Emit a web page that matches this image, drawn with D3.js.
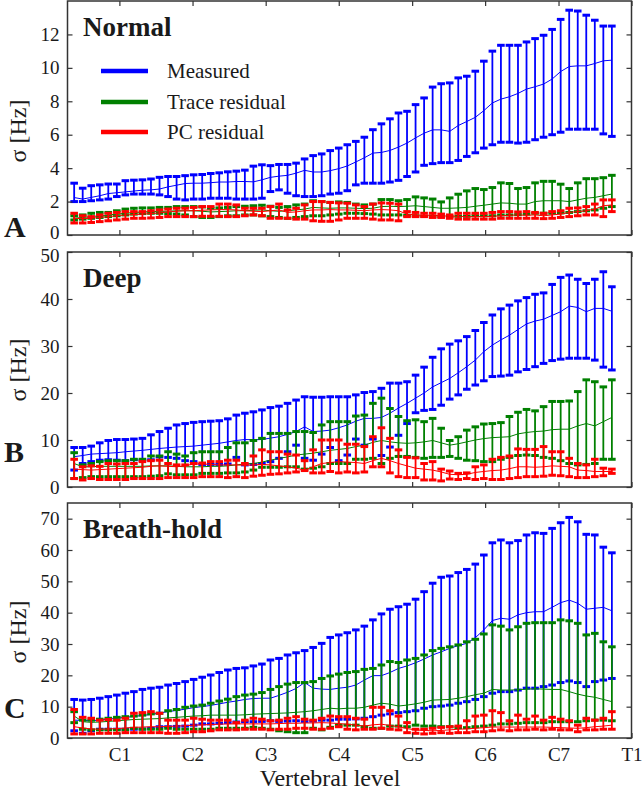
<!DOCTYPE html>
<html><head><meta charset="utf-8">
<script src="https://cdn.jsdelivr.net/npm/d3@7"></script>
<style>body{margin:0;background:#fff} svg text{font-family:"Liberation Serif","Times New Roman",serif;fill:#1a1a1a}</style>
</head><body><svg id="c" width="644" height="794"></svg>
<script>
// ---------- DATA ----------
const tickLabels = ["C1","C2","C3","C4","C5","C6","C7","T1"];
const tickSlices = [5.3,13.87,22.44,31.0,39.6,48.15,56.75,65.3];
const seriesNames = ["Measured","Trace residual","PC residual"];

// Normal
const normalMeasuredMean=[2.24,2.15,2.25,2.35,2.48,2.53,2.58,2.63,2.68,2.7,2.75,2.88,2.98,3.08,3.1,3.1,3.13,3.17,3.17,3.2,3.2,3.18,3.3,3.45,3.52,3.57,3.7,3.87,3.77,3.77,3.85,3.97,4.13,4.37,4.62,4.9,4.94,5.06,5.26,5.5,5.81,6.09,6.29,6.29,6.2,6.55,6.79,7.04,7.44,7.9,8.13,8.27,8.47,8.73,8.87,9.03,9.33,9.78,10.08,10.12,10.12,10.26,10.42,10.46];
const normalMeasuredHi=[3.1,2.8,2.95,3.0,3.05,3.05,3.25,3.28,3.3,3.35,3.45,3.5,3.5,3.55,3.6,3.62,3.68,3.72,3.78,3.82,3.88,4.12,4.2,4.15,4.22,4.22,4.3,4.55,4.75,4.85,5.05,5.2,5.4,5.6,5.85,6.3,6.65,6.95,7.3,7.4,7.8,8.2,8.85,9.05,9.1,9.4,9.5,9.8,10.4,11.0,11.35,11.35,11.35,11.55,11.75,11.95,12.3,12.9,13.45,13.4,13.15,12.85,12.5,12.5];
const normalMeasuredLo=[2.0,2.0,2.05,2.1,2.15,2.3,2.4,2.45,2.45,2.45,2.4,2.3,2.15,2.1,2.15,2.15,2.2,2.2,2.2,2.15,2.15,2.15,2.2,2.6,2.7,2.5,2.35,2.3,2.3,2.35,2.45,2.5,2.65,3.0,3.1,3.1,3.1,3.17,3.27,3.5,3.77,4.17,4.27,4.33,4.33,4.46,4.7,4.92,5.2,5.4,5.55,5.55,5.5,5.55,5.7,5.85,6.0,6.15,6.33,6.33,6.33,6.33,6.05,5.9];
const normalTraceMean=[1.0,1.05,1.1,1.15,1.2,1.25,1.3,1.35,1.38,1.4,1.42,1.42,1.45,1.45,1.45,1.42,1.38,1.4,1.42,1.45,1.45,1.48,1.5,1.45,1.42,1.45,1.5,1.55,1.65,1.62,1.6,1.62,1.62,1.6,1.58,1.6,1.7,1.72,1.7,1.72,1.75,1.7,1.65,1.6,1.6,1.62,1.65,1.72,1.78,1.85,1.92,1.9,1.85,1.85,2.0,2.05,2.05,2.05,2.0,2.1,2.2,2.25,2.35,2.45];
const normalTraceHi=[1.15,1.2,1.3,1.35,1.35,1.45,1.55,1.6,1.62,1.62,1.65,1.65,1.7,1.7,1.7,1.68,1.6,1.62,1.65,1.7,1.72,1.75,1.78,1.72,1.65,1.7,1.8,1.85,2.05,2.0,1.95,1.98,1.95,1.85,1.8,1.85,2.12,2.12,2.05,2.12,2.28,2.22,2.15,1.98,2.22,2.44,2.64,2.78,2.72,2.84,3.12,3.08,2.78,2.84,3.12,3.21,3.21,3.04,2.78,3.12,3.37,3.37,3.43,3.57];
const normalTraceLo=[0.9,0.95,1.0,1.05,1.1,1.15,1.2,1.25,1.28,1.3,1.3,1.28,1.25,1.2,1.1,1.05,1.05,1.1,1.15,1.15,1.2,1.2,1.15,1.1,1.05,1.0,1.05,1.1,1.15,1.15,1.2,1.25,1.3,1.3,1.28,1.25,1.2,1.2,1.2,1.18,1.15,1.12,1.12,1.1,1.1,1.12,1.12,1.15,1.15,1.15,1.2,1.2,1.22,1.25,1.3,1.3,1.3,1.32,1.35,1.4,1.45,1.5,1.6,1.7];
const normalPCMean=[1.0,0.98,1.0,1.05,1.1,1.15,1.2,1.22,1.25,1.28,1.32,1.38,1.42,1.45,1.45,1.48,1.5,1.52,1.52,1.5,1.45,1.42,1.4,1.45,1.5,1.35,1.38,1.45,1.5,1.5,1.52,1.5,1.5,1.48,1.45,1.5,1.52,1.5,1.45,1.25,1.2,1.18,1.18,1.15,1.12,1.12,1.1,1.1,1.1,1.12,1.15,1.18,1.2,1.18,1.2,1.15,1.2,1.25,1.35,1.4,1.45,1.55,1.75,1.8];
const normalPCHi=[1.3,1.15,1.1,1.2,1.3,1.35,1.4,1.4,1.4,1.45,1.5,1.55,1.6,1.6,1.65,1.7,1.7,1.85,1.85,1.8,1.6,1.6,1.6,1.7,1.85,1.5,1.6,1.8,2.0,2.0,1.95,1.92,1.9,1.8,1.7,1.85,1.92,1.9,1.85,1.4,1.35,1.3,1.3,1.25,1.2,1.3,1.3,1.3,1.3,1.35,1.4,1.4,1.38,1.4,1.35,1.3,1.4,1.45,1.6,1.62,1.7,1.85,2.1,2.1];
const normalPCLo=[0.72,0.72,0.75,0.8,0.85,0.9,0.95,1.0,1.0,1.02,1.05,1.1,1.1,1.1,1.1,1.12,1.12,1.12,1.1,1.1,1.15,1.2,1.15,1.0,1.0,1.0,0.95,0.95,0.85,0.82,0.82,0.9,1.0,1.0,1.0,0.95,0.9,0.9,0.85,1.1,1.1,1.1,1.05,1.05,1.0,0.95,0.95,0.95,0.95,0.95,1.0,1.0,1.0,1.0,1.0,0.98,1.0,1.05,1.1,1.15,1.2,1.2,1.1,1.4];

// Deep
const deepMeasuredMean=[6.45,6.7,7.0,7.1,7.2,7.3,7.5,7.65,7.8,8.0,8.2,8.35,8.5,8.6,8.7,8.9,9.1,9.3,9.6,9.9,10.1,10.05,10.1,10.4,10.7,11.2,11.8,12.8,11.8,11.9,12.1,12.6,13.2,14.0,14.6,14.6,14.8,15.7,16.8,17.8,18.9,20.0,21.3,22.2,23.1,24.3,25.6,27.0,28.8,30.2,31.3,32.3,33.5,34.7,35.3,35.7,36.5,37.3,38.5,38.2,37.3,38.0,38.0,37.4];
const deepMeasuredHi=[8.4,8.4,8.7,9.4,9.9,10.1,10.1,10.2,10.35,11.1,11.8,12.5,13.2,13.5,13.75,13.9,14.0,14.1,14.5,15.3,15.7,16.0,16.4,16.9,17.2,17.8,18.5,19.2,19.1,19.1,19.2,19.2,19.2,19.6,20.1,20.3,21.0,22.1,22.1,22.4,23.8,25.5,27.6,29.4,30.4,31.1,32.0,33.3,35.0,36.6,37.9,38.7,39.6,40.3,41.0,41.3,43.1,44.6,45.1,44.2,43.3,44.2,45.8,42.6];
const deepMeasuredLo=[3.6,5.0,5.4,5.7,5.8,5.7,5.6,5.8,5.7,5.8,6.4,6.3,6.1,5.6,5.4,4.8,4.8,4.8,4.9,6.3,4.7,4.8,5.0,5.4,6.1,7.5,8.9,6.1,5.7,7.0,8.4,5.6,6.8,10.2,8.9,10.2,6.7,8.5,11.0,13.5,15.8,16.3,16.5,17.4,18.7,19.6,20.8,21.7,22.6,23.5,23.6,23.8,24.5,25.0,25.6,26.3,26.9,27.2,27.4,27.4,27.4,27.0,25.5,24.9];
const deepTraceMean=[5.0,4.3,4.3,4.4,4.4,4.4,4.4,4.4,4.4,4.5,4.5,4.5,4.4,4.3,4.3,4.3,4.4,4.4,4.5,4.7,4.9,5.0,5.3,5.7,6.1,6.4,6.8,7.0,7.2,7.5,7.8,8.0,8.2,8.6,8.9,9.5,9.9,9.6,9.4,9.3,9.4,9.6,9.9,9.4,8.9,9.2,9.6,10.0,10.3,10.5,10.6,10.7,11.3,11.6,11.8,11.9,12.2,12.3,12.3,13.0,13.5,13.0,13.9,14.8];
const deepTraceHi=[7.3,4.7,5.0,5.4,5.6,5.6,5.6,5.9,5.9,6.6,6.6,7.5,7.0,6.6,7.3,7.5,7.5,7.5,8.4,9.4,9.4,9.9,10.35,11.4,11.4,11.4,11.8,11.8,11.6,13.2,13.9,13.9,13.9,15.1,15.3,17.8,18.9,16.7,15.0,14.1,14.3,13.9,14.6,12.5,9.9,10.7,12.1,12.8,13.4,13.5,13.7,15.0,15.9,16.5,16.2,17.1,18.2,18.2,18.3,20.3,22.8,22.4,21.3,22.8];
const deepTraceLo=[1.8,2.0,2.2,2.2,2.2,2.2,2.2,2.2,2.2,2.3,2.4,2.8,2.6,2.6,2.6,2.9,2.9,2.9,3.0,3.0,3.2,3.6,4.2,4.2,4.2,4.3,4.3,3.8,4.0,4.3,5.0,5.0,5.0,5.9,5.9,6.1,5.0,6.1,6.5,6.5,6.3,6.1,6.3,6.3,6.5,6.1,5.7,5.6,5.4,5.4,5.9,6.3,6.7,6.8,6.7,6.3,6.1,5.6,5.0,4.7,4.8,5.0,5.9,5.9];
const deepPCMean=[3.8,3.7,3.6,3.7,3.8,3.9,4.0,4.1,4.2,4.4,4.5,4.4,4.3,4.5,4.9,4.9,4.8,4.7,4.7,4.7,4.6,4.7,4.8,4.7,4.5,4.3,4.0,3.6,4.3,5.0,5.2,5.4,5.3,5.2,5.0,5.6,6.1,5.6,5.0,4.5,4.0,3.8,3.6,3.2,2.7,2.6,2.7,3.1,3.3,3.5,3.6,3.9,4.3,4.3,4.2,4.3,4.5,4.4,4.3,3.6,3.5,3.3,3.3,3.3];
const deepPCHi=[5.9,4.3,4.5,4.4,5.0,4.9,5.0,5.0,5.4,5.6,5.7,5.0,4.7,4.7,5.0,5.1,5.4,5.4,5.7,5.7,5.0,6.6,7.9,7.5,7.5,7.0,6.8,5.6,7.9,10.0,10.0,10.0,9.1,9.1,8.6,10.7,12.6,10.35,7.9,6.3,6.2,5.0,5.4,3.8,3.4,2.9,3.0,4.3,4.7,5.9,6.3,6.6,8.1,8.0,8.0,8.6,7.5,7.5,6.1,5.0,4.7,5.9,4.0,3.8];
const deepPCLo=[1.8,1.5,1.8,1.6,1.6,1.6,1.6,1.8,1.8,1.8,1.8,2.0,2.0,2.0,2.0,2.2,2.2,2.2,2.0,2.2,2.0,2.3,2.5,2.7,2.8,3.0,3.2,3.5,3.0,3.0,3.3,3.0,3.2,3.0,3.2,4.3,4.3,3.0,2.2,2.0,2.0,1.5,1.5,1.3,1.7,1.6,1.8,1.6,1.8,1.6,1.6,1.8,2.0,2.2,2.2,2.3,2.5,2.4,2.2,2.0,2.0,2.2,2.4,2.9];

// Breath-hold
const breathMeasuredMean=[5.7,5.6,5.5,5.7,6.0,6.3,6.6,6.9,7.2,7.5,8.0,8.4,8.8,9.2,9.7,10.0,10.4,10.9,11.4,11.8,12.3,12.6,12.7,12.7,13.6,14.6,15.8,17.7,15.9,15.6,15.5,15.9,16.2,16.9,18.5,19.9,19.9,20.9,22.2,23.0,24.0,25.2,26.5,27.5,28.6,29.5,30.2,32.0,34.5,37.5,38.2,37.9,39.3,40.0,40.3,40.3,41.7,43.2,44.0,43.0,41.1,41.4,41.7,40.6];
const breathMeasuredHi=[12.3,12.1,12.3,12.7,13.2,13.7,14.3,14.8,15.5,15.9,16.2,16.9,17.4,18.0,18.7,19.4,20.1,20.9,21.7,22.2,22.4,23.0,23.6,24.9,25.4,26.5,27.2,27.9,28.9,30.2,32.1,32.9,33.6,34.5,35.7,37.7,39.6,41.1,41.9,42.7,44.3,46.7,49.4,51.3,51.7,52.8,53.8,55.5,58.4,62.3,63.2,62.3,63.0,64.8,65.5,65.3,66.9,68.7,70.4,69.0,65.0,64.8,60.9,59.1];
const breathMeasuredLo=[2.3,1.5,2.3,2.8,2.8,2.8,2.8,2.8,2.9,3.1,3.6,3.6,3.7,3.8,4.1,4.5,4.5,4.7,4.9,5.1,5.2,5.2,5.3,5.5,5.3,5.4,5.5,5.3,5.4,5.7,5.7,6.0,6.0,6.1,6.3,6.8,7.3,7.7,8.1,8.4,8.7,9.5,10.0,10.2,10.5,11.1,11.6,12.3,13.2,14.3,14.8,14.8,15.3,15.9,15.9,16.4,16.9,17.7,18.2,17.7,16.4,18.0,18.5,19.0];
const breathTraceMean=[7.0,5.2,5.0,5.1,5.3,5.5,5.7,5.9,6.0,6.1,6.2,6.4,6.6,6.8,7.0,7.1,7.3,7.3,7.3,7.3,7.4,7.6,7.7,7.8,7.9,8.0,8.2,8.4,8.7,9.1,9.5,9.3,9.5,9.5,9.8,10.5,11.1,10.8,10.2,10.5,10.9,11.4,12.1,12.2,12.3,12.7,13.2,13.8,14.3,15.5,15.3,15.3,15.4,15.6,15.7,15.6,15.5,15.5,14.8,14.0,13.4,13.0,12.3,11.6];
const breathTraceHi=[8.4,5.7,5.7,6.0,6.3,6.6,6.8,7.0,7.3,7.7,7.9,8.7,9.1,9.8,10.2,10.5,11.1,11.8,12.4,13.2,13.7,14.0,14.5,15.5,16.4,17.2,17.7,17.7,18.0,19.0,19.8,20.4,20.9,21.2,21.9,22.2,23.3,24.4,24.1,24.9,25.4,26.5,27.9,28.6,29.1,29.7,30.7,31.5,33.2,36.1,35.7,34.5,35.5,36.6,36.8,36.8,36.8,37.7,37.4,36.6,32.9,33.4,30.7,29.1];
const breathTraceLo=[4.9,2.8,2.6,2.6,2.6,2.6,2.6,3.1,2.8,2.8,2.8,3.1,2.8,2.8,2.8,2.8,2.8,3.1,3.1,3.1,3.1,3.4,3.1,2.8,2.3,2.0,1.7,1.7,3.1,2.6,3.4,4.1,4.1,4.1,3.6,3.1,3.1,3.8,3.8,3.6,4.1,3.8,3.8,3.6,3.6,3.3,3.3,3.6,3.8,4.1,4.5,4.5,4.7,4.9,4.9,4.9,5.2,5.2,5.2,5.2,5.5,5.7,5.7,5.5];
const breathPCMean=[3.6,3.2,2.9,2.8,2.9,3.0,3.2,3.4,3.5,3.6,3.6,3.7,3.8,3.9,4.1,4.2,4.3,4.4,4.5,4.5,4.5,4.5,4.5,4.5,4.6,4.7,4.7,4.8,4.8,4.9,4.8,4.6,4.4,4.1,3.8,4.2,4.4,4.0,3.6,3.0,2.6,2.4,2.3,2.4,2.6,2.8,2.9,3.1,3.3,3.5,3.5,3.5,3.5,3.5,3.5,3.5,3.4,3.3,3.2,3.1,3.3,3.6,3.8,4.1];
const breathPCHi=[9.1,6.6,6.3,5.7,5.9,5.7,6.3,7.9,8.1,8.4,7.9,5.7,5.7,5.7,6.3,6.0,5.7,5.7,5.7,4.9,5.7,6.3,6.0,5.5,5.7,6.3,6.8,6.0,5.7,6.3,7.0,6.8,6.8,6.3,6.0,9.8,9.8,8.7,7.0,4.9,2.8,2.8,3.1,3.4,3.6,3.8,5.5,7.0,7.3,8.7,8.1,5.5,7.3,6.0,7.0,5.7,6.6,6.0,5.5,4.1,6.3,5.7,6.3,8.4];
const breathPCLo=[1.3,1.3,1.3,1.5,1.5,1.5,1.7,1.7,1.7,1.7,1.7,1.5,1.5,1.7,2.0,2.0,2.3,2.6,2.6,2.6,2.8,2.8,2.8,2.6,2.8,2.8,3.1,3.1,2.8,2.8,3.1,3.6,2.8,2.6,2.8,2.8,3.1,2.8,2.6,1.7,1.5,1.3,1.5,1.7,1.5,1.7,1.7,2.0,2.0,2.3,2.6,2.3,2.6,2.6,2.8,2.6,2.8,2.6,2.6,2.0,2.6,2.6,2.8,2.8];

// ---------- CHART ----------
const colors = ["#0000ff","#008000","#ff0000"];
const svg = d3.select("#c");
const x = d3.scaleLinear().domain([-0.78, 65.3]).range([67.5, 631.5]);
const slices = d3.range(normalMeasuredMean.length);

const panels = [
  {title:"Normal", letter:"A", top:1, bottom:235, ymax:14, yticks:d3.range(0,13,2), letterY:237, ylabY:131,
   data:[[normalMeasuredMean,normalMeasuredLo,normalMeasuredHi],[normalTraceMean,normalTraceLo,normalTraceHi],[normalPCMean,normalPCLo,normalPCHi]]},
  {title:"Deep", letter:"B", top:252, bottom:487, ymax:50, yticks:d3.range(0,51,10), letterY:462, ylabY:370,
   data:[[deepMeasuredMean,deepMeasuredLo,deepMeasuredHi],[deepTraceMean,deepTraceLo,deepTraceHi],[deepPCMean,deepPCLo,deepPCHi]]},
  {title:"Breath-hold", letter:"C", top:503, bottom:738, ymax:75, yticks:d3.range(0,71,10), letterY:718, ylabY:632,
   data:[[breathMeasuredMean,breathMeasuredLo,breathMeasuredHi],[breathTraceMean,breathTraceLo,breathTraceHi],[breathPCMean,breathPCLo,breathPCHi]]}
];

const [x0, x1] = x.range();
panels.forEach((p, pi) => {
  const y = d3.scaleLinear().domain([0, p.ymax]).range([p.bottom, p.top]);
  const g = svg.append("g");

  p.data.forEach((s, si) => {
    const [mean, lo, hi] = s;
    const c = colors[si];
    const eg = g.append("g").attr("stroke", c).attr("fill", "none");
    slices.forEach(i => {
      const xi = x(i);
      eg.append("line").attr("x1", xi).attr("x2", xi).attr("y1", y(lo[i])).attr("y2", y(hi[i])).attr("stroke-width", 1.8);
      [lo[i], hi[i]].forEach(v => {
        eg.append("line").attr("x1", xi - 3.8).attr("x2", xi + 3.8).attr("y1", y(v)).attr("y2", y(v)).attr("stroke-width", 3);
      });
    });
    const line = d3.line().x(i => x(i)).y(i => y(mean[i]));
    g.append("path").attr("d", line(slices)).attr("fill", "none").attr("stroke", c).attr("stroke-width", 1);
  });

  // axes
  const axL = d3.axisLeft(y).tickValues(p.yticks).tickSize(-5).tickPadding(8).tickFormat(d3.format("d"));
  const axR = d3.axisRight(y).tickValues(p.yticks).tickSize(-5).tickFormat("");
  const xb = d3.axisBottom(x).tickValues(tickSlices).tickSize(-5).tickPadding(10).tickFormat((d, i) => pi === 2 ? tickLabels[i] : "");
  const xt = d3.axisTop(x).tickValues(tickSlices).tickSize(-5).tickFormat("");
  const style = sel => { sel.select(".domain").remove(); sel.selectAll("line").attr("stroke", "#333").attr("stroke-width", 1.2);
                         sel.selectAll("text").attr("font-size", 19).attr("fill", "#1a1a1a").attr("font-family", "Liberation Serif"); };
  const gl = g.append("g").attr("transform", `translate(${x0},0)`).call(axL).call(style);
  gl.selectAll("text").attr("dy", d => d === 0 && pi === 0 ? "0.2em" : (d === p.yticks[p.yticks.length-1] && pi === 1 ? "0.5em" : "0.32em"));
  g.append("g").attr("transform", `translate(${x1},0)`).call(axR).call(style);
  g.append("g").attr("transform", `translate(0,${p.bottom})`).call(xb).call(style);
  g.append("g").attr("transform", `translate(0,${p.top})`).call(xt).call(style);
  g.append("rect").attr("x", x0).attr("y", p.top).attr("width", x1 - x0).attr("height", p.bottom - p.top)
    .attr("fill", "none").attr("stroke", "#333").attr("stroke-width", 1.5);

  g.append("text").attr("x", 83).attr("y", p.top + 35).attr("font-size", 27).attr("font-weight", "bold").text(p.title);
  g.append("text").attr("x", 4).attr("y", p.letterY).attr("font-size", 30).attr("font-weight", "bold").text(p.letter);
  g.append("text").attr("transform", `translate(26,${p.ylabY}) rotate(-90)`).attr("text-anchor", "middle")
    .attr("font-size", 24).text("σ [Hz]");

  if (pi === 0) {
    const ly = [71, 102, 132];
    seriesNames.forEach((n, si) => {
      g.append("line").attr("x1", 101).attr("x2", 148).attr("y1", ly[si]).attr("y2", ly[si])
        .attr("stroke", colors[si]).attr("stroke-width", 4.5);
      g.append("text").attr("x", 167).attr("y", ly[si] + 7).attr("font-size", 21).text(n);
    });
  }
});
svg.append("text").attr("x", 330).attr("y", 786).attr("text-anchor", "middle").attr("font-size", 24).text("Vertebral level");
</script></body></html>
